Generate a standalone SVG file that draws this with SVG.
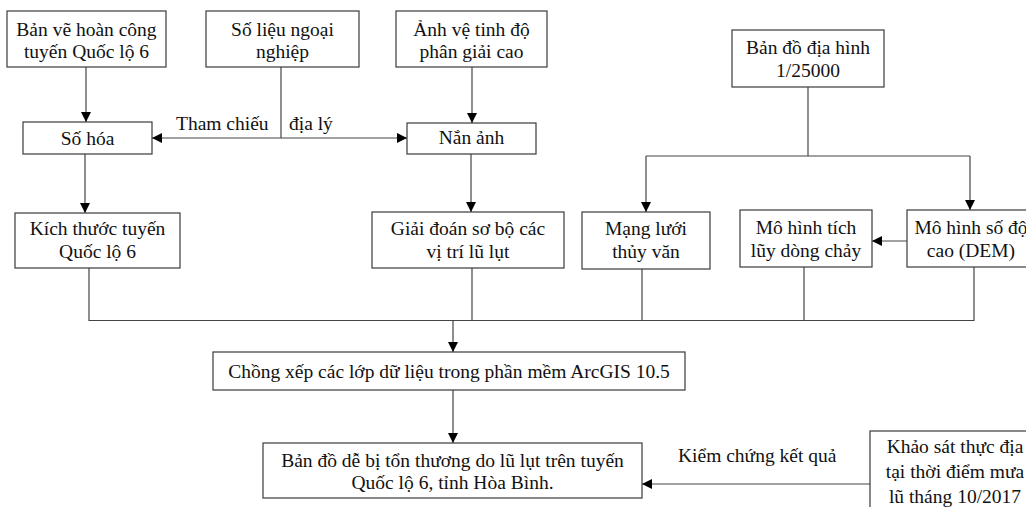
<svg xmlns="http://www.w3.org/2000/svg" width="1026" height="507" viewBox="0 0 1026 507">
  <style>
    .box { fill: #ffffff; stroke: #3a3a3a; stroke-width: 1.2; }
    .lbl { font-family: "Liberation Serif", "Times New Roman", serif; font-size: 19.5px; fill: #111111; text-anchor: middle; }
    .free { text-anchor: start; }
    .wire { fill: none; stroke: #444444; stroke-width: 1.2; }
  </style>
  <defs>
    <marker id="arrow" markerUnits="userSpaceOnUse" markerWidth="11" markerHeight="11" refX="10" refY="5" orient="auto">
      <path d="M0,0 L10,5 L0,10 z" fill="#000000"/>
    </marker>
  </defs>
  <rect width="1026" height="507" fill="#ffffff"/>

  <!-- connectors -->
  <g id="connectors">
    <line class="wire" x1="86" y1="67" x2="86" y2="122" marker-end="url(#arrow)"/>
    <line class="wire" x1="472" y1="67" x2="472" y2="123" marker-end="url(#arrow)"/>
    <line class="wire" x1="281" y1="67" x2="281" y2="138"/>
    <line class="wire" x1="281" y1="138" x2="152" y2="138" marker-end="url(#arrow)"/>
    <line class="wire" x1="281" y1="138" x2="407" y2="138" marker-end="url(#arrow)"/>
    <line class="wire" x1="85" y1="154" x2="85" y2="213" marker-end="url(#arrow)"/>
    <line class="wire" x1="471" y1="154" x2="471" y2="212" marker-end="url(#arrow)"/>
    <polyline class="wire" points="808,87 808,156"/>
    <polyline class="wire" points="646,156 970,156"/>
    <line class="wire" x1="646" y1="156" x2="646" y2="212" marker-end="url(#arrow)"/>
    <line class="wire" x1="970" y1="156" x2="970" y2="210" marker-end="url(#arrow)"/>
    <line class="wire" x1="907" y1="241" x2="872" y2="241" marker-end="url(#arrow)"/>
    <!-- collector bus under the second row -->
    <polyline class="wire" points="89,268 89,320.5 974,320.5 974,267"/>
    <line class="wire" x1="472" y1="268" x2="472" y2="320.5"/>
    <line class="wire" x1="642" y1="269" x2="642" y2="320.5"/>
    <line class="wire" x1="804" y1="267" x2="804" y2="320.5"/>
    <line class="wire" x1="453" y1="320.5" x2="453" y2="352" marker-end="url(#arrow)"/>
    <line class="wire" x1="453" y1="390" x2="453" y2="443" marker-end="url(#arrow)"/>
    <line class="wire" x1="870" y1="484" x2="642" y2="484" marker-end="url(#arrow)"/>
    <text class="lbl free" x="176" y="130">Tham chiếu</text>
    <text class="lbl free" x="289" y="130">địa lý</text>
    <text class="lbl free" x="678" y="462">Kiểm chứng kết quả</text>
  </g>

  <g id="ban-ve-hoan-cong">
    <rect class="box" x="7" y="11" width="159" height="56"/>
    <text class="lbl" x="86.5" y="36">Bản vẽ hoàn công</text>
    <text class="lbl" x="86.5" y="58">tuyến Quốc lộ 6</text>
  </g>
  <g id="so-lieu-ngoai-nghiep">
    <rect class="box" x="206" y="11" width="153" height="56"/>
    <text class="lbl" x="282.5" y="36">Số liệu ngoại</text>
    <text class="lbl" x="282.5" y="58">nghiệp</text>
  </g>
  <g id="anh-ve-tinh">
    <rect class="box" x="396" y="11" width="151" height="56"/>
    <text class="lbl" x="471.5" y="36">Ảnh vệ tinh độ</text>
    <text class="lbl" x="471.5" y="58">phân giải cao</text>
  </g>
  <g id="ban-do-dia-hinh">
    <rect class="box" x="732" y="30" width="152" height="57"/>
    <text class="lbl" x="808" y="54">Bản đồ địa hình</text>
    <text class="lbl" x="808" y="77">1/25000</text>
  </g>
  <g id="so-hoa">
    <rect class="box" x="23" y="122" width="129" height="32"/>
    <text class="lbl" x="87.5" y="145">Số hóa</text>
  </g>
  <g id="nan-anh">
    <rect class="box" x="407" y="123" width="129" height="31"/>
    <text class="lbl" x="471.5" y="144">Nắn ảnh</text>
  </g>
  <g id="kich-thuoc-tuyen">
    <rect class="box" x="15" y="213" width="165" height="55"/>
    <text class="lbl" x="97.5" y="235">Kích thước tuyến</text>
    <text class="lbl" x="97.5" y="258">Quốc lộ 6</text>
  </g>
  <g id="giai-doan-so-bo">
    <rect class="box" x="372" y="212" width="192" height="56"/>
    <text class="lbl" x="468" y="235">Giải đoán sơ bộ các</text>
    <text class="lbl" x="468" y="258">vị trí lũ lụt</text>
  </g>
  <g id="mang-luoi-thuy-van">
    <rect class="box" x="582" y="212" width="128" height="57"/>
    <text class="lbl" x="646" y="235">Mạng lưới</text>
    <text class="lbl" x="646" y="258">thủy văn</text>
  </g>
  <g id="mo-hinh-tich-luy">
    <rect class="box" x="740" y="210" width="132" height="57"/>
    <text class="lbl" x="806" y="234">Mô hình tích</text>
    <text class="lbl" x="806" y="257">lũy dòng chảy</text>
  </g>
  <g id="mo-hinh-dem">
    <rect class="box" x="907" y="210" width="128" height="57"/>
    <text class="lbl" x="971" y="234">Mô hình số độ</text>
    <text class="lbl" x="971" y="257">cao (DEM)</text>
  </g>
  <g id="chong-xep-lop">
    <rect class="box" x="213" y="352" width="472" height="38"/>
    <text class="lbl" x="449" y="378">Chồng xếp các lớp dữ liệu trong phần mềm ArcGIS 10.5</text>
  </g>
  <g id="ban-do-de-bi-ton-thuong">
    <rect class="box" x="263" y="443" width="379" height="55"/>
    <text class="lbl" x="452.5" y="467">Bản đồ dễ bị tổn thương do lũ lụt trên tuyến</text>
    <text class="lbl" x="452.5" y="489">Quốc lộ 6, tỉnh Hòa Bình.</text>
  </g>
  <g id="khao-sat-thuc-dia">
    <rect class="box" x="870" y="431" width="170" height="90"/>
    <text class="lbl" x="955" y="453">Khảo sát thực địa</text>
    <text class="lbl" x="955" y="478">tại thời điểm mưa</text>
    <text class="lbl" x="955" y="503">lũ tháng 10/2017</text>
  </g>
</svg>
